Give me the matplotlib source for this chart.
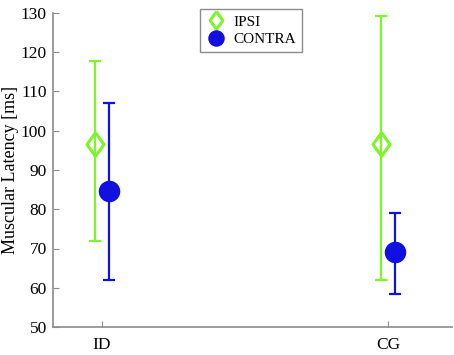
import matplotlib
matplotlib.use('Agg')
import matplotlib.pyplot as plt
import numpy as np

# Data
groups = ['ID', 'CG']
ipsi_mean = [96.7, 96.7]
ipsi_low = [72.0, 62.1]
ipsi_high = [117.7, 129.3]
contra_mean = [84.6, 69.1]
contra_low = [61.9, 58.5]
contra_high = [107.0, 79.0]

plt.rcParams['font.family'] = ['Liberation Serif', 'DejaVu Serif']

GREEN = '#7df52a'
BLUE = '#1010e0'
GREY = '#8c8c8c'

fig = plt.figure(figsize=(4.54, 3.55), dpi=100)
ax = fig.add_axes([52.5 / 454, 28 / 355, (452 - 52.5) / 454, (327 - 13) / 355])

x = np.arange(1, len(groups) + 1)
off = 0.024

diamond = [(0, 1), (0.72, 0), (0, -1), (-0.72, 0), (0, 1)]

m = np.array(ipsi_mean)
ax.errorbar(x - off, m, yerr=[m - np.array(ipsi_low), np.array(ipsi_high) - m],
            fmt='none', ecolor=GREEN, elinewidth=1.6, capsize=4, capthick=1.6)
ax.plot(x - off, m, linestyle='none', marker=diamond, markersize=17,
        markerfacecolor='none', markeredgecolor=GREEN, markeredgewidth=2.2,
        label='IPSI')

m = np.array(contra_mean)
ax.errorbar(x + off, m, yerr=[m - np.array(contra_low), np.array(contra_high) - m],
            fmt='none', ecolor=BLUE, elinewidth=1.6, capsize=4, capthick=1.6)
ax.plot(x + off, m, linestyle='none', marker='o', markersize=14.5,
        markerfacecolor=BLUE, markeredgecolor=BLUE, label='CONTRA')

ax.set_ylim(50, 130)
ax.set_xlim(1 - 49.5 / 286, 2 + 64 / 286)
ax.set_yticks(range(50, 131, 10))
ax.set_xticks(x)
ax.set_xticklabels(groups)
ax.set_ylabel('Muscular Latency [ms]', fontsize=13, labelpad=1.5)

for s in ['top', 'right']:
    ax.spines[s].set_visible(False)
for s in ['left', 'bottom']:
    ax.spines[s].set_color(GREY)
    ax.spines[s].set_linewidth(1.2)
ax.tick_params(direction='in', length=4, color=GREY, labelsize=12.5)
ax.tick_params(axis='y', pad=4)
ax.tick_params(axis='x', pad=7)

leg = ax.legend(loc='upper center', bbox_to_anchor=(251 / 454, 1 - 9 / 355),
                bbox_transform=fig.transFigure, borderaxespad=0, fancybox=False,
                framealpha=1, edgecolor=GREY, fontsize=11, handletextpad=0.5,
                borderpad=0.4, labelspacing=0.25, handlelength=1.3, markerscale=0.75)
leg.get_frame().set_linewidth(1.0)

fig.savefig('out.png', dpi=100)
